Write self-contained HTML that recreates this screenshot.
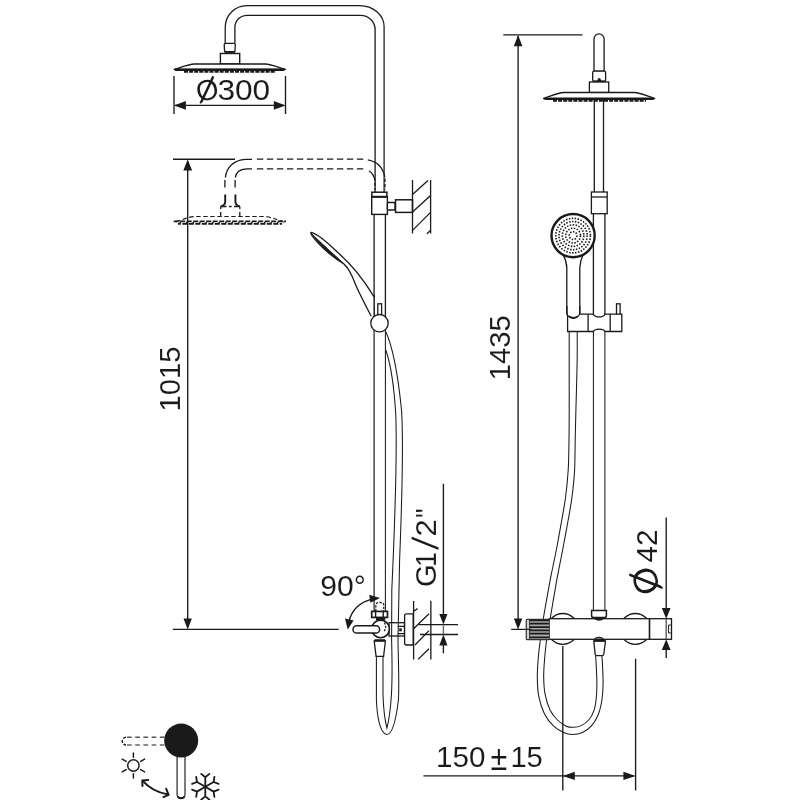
<!DOCTYPE html>
<html><head><meta charset="utf-8"><title>Shower column dimensions</title>
<style>
html,body{margin:0;padding:0;background:#fff;}
svg{display:block;will-change:transform;opacity:.999}
.l{fill:none;stroke:#1a1a1a;stroke-width:1.3}
.w{fill:#fff;stroke:#1a1a1a;stroke-width:1.3}
.t{fill:none;stroke:#1a1a1a;stroke-width:1.35}
.d{fill:none;stroke:#1a1a1a;stroke-width:1.3;stroke-dasharray:4.2 2.4}
.a{fill:#1a1a1a;stroke:none}
text{font-family:"Liberation Sans",sans-serif;fill:#1a1a1a;stroke:#fff;stroke-width:.08}
</style></head>
<body>
<svg width="800" height="800" viewBox="0 0 800 800">
<rect width="800" height="800" fill="#fff"/>

<!-- ===== LEFT VIEW ===== -->
<g id="left">
<!-- arm pipe -->
<path class="l" d="M225.2 43.3 V27.5 A21.5 22 0 0 1 246.7 5.5 H359.6 A24.5 21 0 0 1 384.1 26.5 V192" style="stroke-width:1.25"/>
<path class="l" d="M234.9 43.3 V27.3 A12.3 12 0 0 1 247.2 15.3 H360.6 A14.5 14.2 0 0 1 375.1 29.5 V192"/>
<!-- head connector -->
<path class="w" d="M224.2 44.8 Q224.2 43.3 225.7 43.3 H233.8 Q235.3 43.3 235.3 44.8 L234.9 51.6 H224.6Z"/>
<path d="M224.8 52 H234.8" stroke="#1a1a1a" stroke-width="1.8" fill="none"/>
<rect class="w" x="220.4" y="53.5" width="19.3" height="10.5" style="stroke-width:1.4"/>
<!-- shower head -->
<path class="w" d="M173.7 69.4 C181 67.6 187 64.4 194.5 64 H265 C272.5 64.4 278.5 67.6 285.8 69.4 Z"/>
<path d="M175 69.8 H284.5" stroke="#1a1a1a" stroke-width="2.6" fill="none"/>
<path d="M184 71.8 H276" stroke="#1a1a1a" stroke-width="2" stroke-dasharray="4 1.1" fill="none"/>
<!-- Ø300 dim -->
<path class="t" d="M174 76 V114.1 M285.5 76 V114.1 M175 105.4 H284"/>
<path class="a" d="M174 105.4 l11.9 -4.3 v8.6z M285.5 105.4 l-11.7 -4.3 v8.6z"/>
<text id="t300o" transform="translate(207.2 90) rotate(-14.4)" text-anchor="middle" y="10" font-size="29" stroke-width=".8">Ø</text>
<path d="M213.1 76.2 L200.3 103.4" stroke="#1a1a1a" stroke-width="1.7" fill="none"/>
<text id="t300" x="217.4" y="100.2" font-size="29.6" textLength="52.8" lengthAdjust="spacingAndGlyphs">300</text>

<!-- dashed arm -->
<path class="l" d="M225.4 177.5 C226.5 167 234 160 245.5 159.3 H252 M235.4 177.5 C236 172.5 240 169.2 246.5 168.9 H252"/>
<path class="l" d="M256.9 159.2 H363.4 M256.9 168.9 H363.4" style="stroke-dasharray:6.4 3.6"/>
<path class="l" d="M224.9 180 V187.6 M235.1 180 V187.6"/>
<path class="t" d="M367.8 159.8 C377 161.5 383 167 384.8 177"/>
<path class="t" d="M369 171 C372.5 173 374.3 176 375 181"/>
<path class="l" d="M385 178.5 V190 M375 182.5 V190" style="stroke-dasharray:3.4 2"/>
<!-- dashed connector -->
<path class="l" d="M225.2 194.4 V201.5 C225.2 204 224 205.6 220.8 206.4 M235.4 194.4 V201.5 C235.4 204 236.6 205.6 239.8 206.4" style="stroke-width:1.9"/>
<path class="l" d="M220.7 206.4 H226.5 M229 206.4 H231.6 M234 206.4 H239.8" style="stroke-width:1.5"/>
<path class="l" d="M220.7 206.4 V209 M220.7 212 V216.4 M239.8 206.4 V209 M239.8 212 V216.4"/>
<!-- dashed head -->
<path d="M176 221.6 C182 220.2 187 217.2 194.5 216.5 H265 C272.5 217.2 277.5 220.2 283.5 221.6" fill="none" stroke="#1a1a1a" stroke-width="1.2" stroke-dasharray="4.4 2.6"/>
<path d="M173.7 221.4 H286" stroke="#1a1a1a" stroke-width="1.9" fill="none" stroke-dasharray="5 1.5"/>
<path d="M178 223.9 H282" stroke="#1a1a1a" stroke-width="1.9" stroke-dasharray="5 1.5" stroke-dashoffset="2.2" fill="none"/>
<path d="M176 222.6 H284" stroke="#1a1a1a" stroke-width="1.4" stroke-dasharray="1.6 4.9" stroke-dashoffset="-3.4" fill="none"/>
<!-- 1015 dim -->
<path class="t" d="M173 159.2 H235 M172.8 629.3 H338.7 M187.7 161 V627"/>
<path class="a" d="M187.7 159.4 l-4.4 11 h8.8z M187.7 629.6 l-4.2 -11 h8.4z"/>
<text id="t1015" transform="translate(180.2 411.6) rotate(-90)" font-size="30" textLength="65" lengthAdjust="spacingAndGlyphs">1015</text>

<!-- pole below connector -->
<path class="l" d="M374.1 214 V330 M385.4 214 V330"/>
<path class="l" d="M374.1 330 V611" style="stroke-width:1.2"/><path class="l" d="M385.4 330 V611" style="stroke-width:1.05"/>
<!-- wall connector top -->
<rect class="w" x="371.9" y="192.2" width="15" height="4.6" style="stroke-width:1.5"/>
<rect class="w" x="371.7" y="196.8" width="15.7" height="17.6" style="stroke-width:1.4"/>
<path class="l" d="M371.7 196.8 H387.4" style="stroke-width:2"/>
<rect class="w" x="387.4" y="202.5" width="7.6" height="7.5" rx="1"/>
<rect class="w" x="395.5" y="199.8" width="17" height="12.6" style="stroke-width:1.5"/>
<!-- wall top -->
<path class="l" d="M412.5 180 V233.4 M430.6 180 V233.4"/>
<path class="l" d="M412.5 194.5 L427.9 180.5 M412.5 212 L430.6 195.4 M412.5 230.4 L430.6 212.4 M426.8 233.7 L430.6 230.4"/>

<!-- hand shower (side) -->
<path d="M311.3 232.4 C318 234 330 245 337.5 252.3 C350 263 362 277 374.1 296.8 V316 L371.2 316.2 C370.2 314.3 367.2 308.5 365.4 305.0 C363.6 301.5 361.9 298.0 360.4 295.0 C358.9 292.0 357.9 289.9 356.6 287.0 C355.3 284.1 354.0 280.4 352.6 277.5 C351.2 274.6 349.9 271.7 348.4 269.4 C346.9 267.1 344.5 264.6 343.7 263.7 C334 258 320 247 312.2 236 C310.5 233.5 310.5 232.3 311.3 232.4Z" fill="#fff" stroke="none"/>
<path class="l" d="M374.1 296.8 C362 277 350 263 337.5 252.3 C330 245 318 234 311.3 232.4 C310.5 232.3 310.5 233.5 312.2 236 C320 247 334 258 343.7 263.7"/>
<path class="l" d="M371.2 316.2 C370.2 314.3 367.2 308.5 365.4 305.0 C363.6 301.5 361.9 298.0 360.4 295.0 C358.9 292.0 357.9 289.9 356.6 287.0 C355.3 284.1 354.0 280.4 352.6 277.5 C351.2 274.6 349.9 271.7 348.4 269.4 C346.9 267.1 344.5 264.6 343.7 263.7"/>
<path d="M311.6 233.6 C318 244 332 257 344 263.8 C334 254.5 320 242 311.6 233.6Z" fill="#1a1a1a" stroke="#1a1a1a" stroke-width="0.8"/>
<path class="l" d="M374.1 295 V318"/>
<!-- pin + ball -->
<rect class="w" x="377.8" y="303.8" width="3.8" height="12"/>
<circle class="w" cx="379.5" cy="323.2" r="8.7"/>
<!-- hose (side) -->
<path class="l" d="M385.6 331.3 C392 345 398 375 401.5 410 C403.5 440 402 500 399.6 560" style="stroke-width:1.05"/>
<path class="l" d="M385.8 350 C390 362 394 385 395.8 415 C397 450 395 520 391.8 590" style="stroke-width:1.05"/>
</g>

<!-- ===== LEFT VIEW: valve ===== -->
<g id="valve">
<!-- block right of body -->
<rect class="w" x="389" y="622.7" width="15.5" height="13.3"/>
<path class="l" d="M397.7 626.3 H404.5 M397.7 633.6 H404.5"/>
<rect x="399.2" y="628.3" width="2.6" height="3" fill="#1a1a1a"/>
<!-- hose loop -->
<path class="l" d="M399.6 560 L398 640 C398.4 665 399.4 685 398.4 700 C396 720 392.5 734.4 386.9 734.4 C381 734.4 377.2 720 376.4 700 V655" style="stroke-width:1.05"/>
<path class="l" d="M391.8 590 L391.6 640 C392.3 665 392.2 682 391.4 695 C390.3 712 388.6 722 386.9 728 C385.3 722 383.6 712 383 695 V655" style="stroke-width:1.05"/>
<!-- tapered connector -->
<path class="w" d="M374.2 641 H385.4 L383.6 656.4 H376.1Z"/>
<path d="M374.5 640.2 H385.2" stroke="#1a1a1a" stroke-width="2" fill="none"/>
<!-- dashed nipple on top -->
<path class="l" d="M375.8 611 V605 C375.8 603 378 602.5 379.8 602.5 C381.8 602.5 383.8 603 383.8 605 V611" style="stroke-dasharray:2.2 1.4"/>
<!-- nut -->
<rect class="w" x="371.7" y="611.4" width="15.8" height="6" style="stroke-width:1.7"/>
<path class="l" d="M375.6 611.4 V617.4 M383.2 611.4 V617.4" style="stroke-width:1.4"/>
<rect x="376" y="617.4" width="9.2" height="3" fill="#1a1a1a"/>
<!-- flange -->
<path class="w" d="M413.2 613.8 H406.6 Q404.6 613.8 404.6 615.8 V643 Q404.6 645 406.6 645 H413.2Z"/>
<!-- body circle -->
<circle class="w" cx="380.6" cy="628.9" r="8.8" style="stroke-width:1.6"/>
<path class="l" d="M384.3 622.7 C386.1 624.8 386.1 628.6 384.3 631" style="stroke-dasharray:2 1.4"/>
<!-- lever -->
<path class="w" d="M375.9 625.7 H356.7 A3.7 3.7 0 0 0 356.7 633.1 H375.9 A3.7 3.7 0 0 0 375.9 625.7Z" style="stroke-width:1.5"/>
<!-- wall bottom -->
<path class="l" d="M413.6 601 V659.6 M430.85 600.8 V659.6"/>
<path class="l" d="M413.6 611.2 L417.6 608.6 M413.6 628.7 L429 613.7 M415 645 L429 630.6 M418.1 659.4 L429 648.7"/>
<path class="l" d="M418.7 624.6 H458 M420 634.5 H458"/>
<!-- G1/2 dim -->
<path class="t" d="M443.4 483.7 V614.5 M443.4 644 V653.3"/><path class="t" d="M443.4 624.6 V634.5" style="stroke:#666"/>
<path class="a" d="M443.4 624.6 l-4.1 -10.7 h8.2z M443.4 634.5 l-4.1 10.9 h8.2z"/>
<text id="tg" transform="translate(436 586.5) rotate(-90)" font-size="29.7"><tspan x="-0.46" y="0" textLength="22.76" lengthAdjust="spacingAndGlyphs">G</tspan><tspan x="19.8" y="0" textLength="14.58" lengthAdjust="spacingAndGlyphs">1</tspan><tspan x="35.6" y="3.2" font-size="38" textLength="15.6" lengthAdjust="spacingAndGlyphs" stroke-width="1.15">/</tspan><tspan x="50.05" y="0" textLength="17.2" lengthAdjust="spacingAndGlyphs">2</tspan><tspan x="68.5" y="0" textLength="9.6" lengthAdjust="spacingAndGlyphs">"</tspan></text>
<!-- 90 deg -->
<path class="l" d="M349 621 C352 610 360 602.5 371 599.4" style="stroke-width:1.5"/>
<path class="a" d="M347.7 629.6 L345 618.4 L353.6 620.4Z M380 598 L369.2 594.8 L370.4 602.8Z"/>
<text id="t90" x="320.3" y="596" font-size="29.8" textLength="45.6" lengthAdjust="spacingAndGlyphs">90°</text>
</g>

<!-- ===== RIGHT VIEW ===== -->
<g id="right">
<!-- 1435 dim -->
<path class="t" d="M503.3 34.8 H582.5 M511.2 629.3 H531 M518.1 36 V627"/>
<path class="a" d="M518.1 35 l-4.3 11.2 h8.6z M518.1 629.6 l-4.2 -11 h8.4z"/>
<text id="t1435" transform="translate(510.3 380.2) rotate(-90)" font-size="30" textLength="65" lengthAdjust="spacingAndGlyphs">1435</text>
<!-- top pipe -->
<path class="w" d="M594 71.2 V39 A5.05 5.2 0 0 1 604.1 39 V71.2Z"/>
<rect class="w" x="592.7" y="71.2" width="12.9" height="10" rx="1.2"/>
<path d="M597.2 81 C597.6 77 600.8 77 601.2 81Z" fill="#1a1a1a"/>
<path d="M593 81.5 H605.4" stroke="#1a1a1a" stroke-width="1.6" fill="none"/>
<rect class="w" x="589.4" y="82" width="19.3" height="10.5"/>
<!-- pole below head -->
<path class="l" d="M594.3 100 V192 M603.5 100 V192"/>
<!-- head -->
<path class="w" d="M543.1 98.6 C550.5 96.6 556.5 93 564 92.5 H634.2 C641.7 93 647.7 96.6 655.1 98.6 Z"/>
<path d="M544.5 98.8 H653.7" stroke="#1a1a1a" stroke-width="2.6" fill="none"/>
<path d="M553 100.8 H646" stroke="#1a1a1a" stroke-width="2" stroke-dasharray="4 1.1" fill="none"/>
<!-- lower pole -->
<path class="l" d="M593.4 213.7 V331 M604.9 213.7 V331"/>
<path class="l" d="M593.4 331 V611 M604.9 331 V611" style="stroke-width:1.05"/>
<!-- connector -->
<rect class="w" x="591.4" y="192" width="15.8" height="21.7"/>
<path class="l" d="M591.4 197 H607.2"/>
<!-- hand shower head -->
<path class="w" d="M563.2 255 C565.5 259 566.7 263 566.8 268 V313 C566.8 318 579.8 318 579.8 313 V268 C579.9 263 581 259 583 255Z"/>
<circle class="w" cx="573.1" cy="235.6" r="21.6" style="stroke-width:2.4"/>
<g fill="none" stroke="#1a1a1a" stroke-width="1.6" stroke-dasharray="1.5 1.45">
<circle cx="573.1" cy="235.6" r="3.9"/>
<circle cx="573.1" cy="235.6" r="7.4"/>
<circle cx="573.1" cy="235.6" r="10.8"/>
<circle cx="573.1" cy="235.6" r="14.1"/>
<circle cx="573.1" cy="235.6" r="17.3"/>
</g>
<!-- holder -->
<rect class="w" x="616.5" y="303.8" width="3.6" height="11"/>
<path d="M567.6 314.2 H593.4 C595 317.8 603.4 317.8 605 314.2 H621.8 V331.5 H605 C603.4 328.4 595 328.4 593.4 331.5 H567.6Z" fill="#fff" stroke="none"/>
<path class="l" d="M579.8 314.2 H593.4 C595 317.8 603.4 317.8 605 314.2 H621.8 V331.5 H605 C603.4 328.4 595 328.4 593.4 331.5 H567.6 V315"/>
<path class="l" d="M588.1 314.2 V331.5 M610.2 314.2 V331.5"/>
<path class="l" d="M566.9 306 V312.5 C566.9 319.5 579.8 319.5 579.8 312.5 V306"/>
<path d="M568.6 316.2 C571 318.6 575.6 318.6 578 316.2" fill="none" stroke="#1a1a1a" stroke-width="1.8"/>
<!-- hose -->
<path class="l" d="M569.2 331.5 C569.2 337.9 569.2 356.9 569.2 370.0 C569.2 383.1 569.2 398.3 569.2 410.0 C569.2 421.7 569.2 430.0 569.0 440.0 C568.8 450.0 568.8 460.5 568.2 470.0 C567.6 479.5 566.7 488.5 565.6 497.0 C564.5 505.5 563.1 512.5 561.6 521.0 C560.1 529.5 558.3 539.8 556.7 548.0 C555.1 556.2 553.4 564.2 552.2 570.0 C551.0 575.8 551.2 574.5 549.7 582.6 C548.2 590.7 544.9 608.9 543.3 618.5 C541.7 628.1 541.1 633.3 540.3 640.0 C539.4 646.7 538.7 652.5 538.2 658.7 C537.7 665.0 537.2 671.2 537.3 677.5 C537.4 683.8 537.5 690.2 538.7 696.2 C539.9 702.2 541.9 708.7 544.4 713.7 C546.9 718.7 550.5 723.1 553.7 726.2 C556.9 729.3 560.6 731.1 563.7 732.5 C566.8 733.9 569.4 734.4 572.5 734.4 C575.6 734.4 579.4 733.9 582.5 732.5 C585.6 731.1 588.6 729.1 591.2 726.2 C593.8 723.3 596.3 719.4 598.1 715.0 C599.9 710.6 601.1 705.2 601.9 700.0 C602.7 694.8 603.0 689.5 603.1 683.7 C603.2 677.9 602.7 669.7 602.5 665.0 C602.3 660.3 602.0 657.2 601.9 655.6" style="stroke-width:1.05"/>
<path class="l" d="M577.2 331.5 C577.2 335.9 577.3 349.1 577.2 358.0 C577.1 366.9 576.8 376.3 576.6 385.0 C576.4 393.7 576.1 400.8 575.9 410.0 C575.7 419.2 575.4 430.0 575.2 440.0 C575.0 450.0 575.1 460.5 574.6 470.0 C574.1 479.5 573.1 488.5 572.0 497.0 C570.9 505.5 569.5 512.5 568.0 521.0 C566.5 529.5 564.5 539.8 563.0 548.0 C561.5 556.2 559.8 564.2 558.7 570.0 C557.6 575.8 557.7 574.5 556.3 582.6 C554.9 590.7 551.8 608.9 550.2 618.5 C548.6 628.1 547.5 633.3 546.6 640.0 C545.7 646.7 545.1 652.5 544.6 658.7 C544.1 665.0 543.6 671.7 543.7 677.5 C543.8 683.3 544.0 688.3 545.0 693.7 C546.0 699.1 547.9 705.6 550.0 710.0 C552.1 714.4 554.8 717.3 557.5 720.0 C560.2 722.7 563.5 725.0 566.2 726.2 C568.9 727.4 571.2 727.4 573.7 727.3 C576.2 727.2 578.7 726.8 581.2 725.6 C583.7 724.4 586.6 722.4 588.7 720.0 C590.8 717.6 592.5 714.8 593.7 711.2 C595.0 707.7 595.7 703.3 596.2 698.7 C596.7 694.1 596.9 689.3 596.9 683.7 C596.9 678.1 596.4 669.7 596.2 665.0 C596.0 660.3 595.7 657.2 595.6 655.6" style="stroke-width:1.05"/>
</g>

<!-- ===== RIGHT VIEW: mixer ===== -->
<g id="mixer">
<!-- escutcheons -->
<circle class="w" cx="562.8" cy="628.9" r="15.4"/>
<circle class="w" cx="635.3" cy="628.9" r="15.4"/>
<!-- pole nut -->
<path class="w" d="M591.6 610.6 H606.4 V615.5 Q606.4 617.6 604.4 617.6 H593.6 Q591.6 617.6 591.6 615.5Z" style="stroke-width:1.5"/>
<!-- bottom connector -->
<path class="w" d="M593.8 641 H605.5 L603.8 654 Q603.6 655.6 602 655.6 H596.8 Q595.3 655.6 595.1 654Z"/>
<!-- body -->
<rect class="w" x="549.3" y="618.7" width="122.2" height="20.6" style="stroke-width:1.3"/>
<path class="l" d="M649.5 618.7 V639.3" style="stroke-width:1.6"/>
<path class="t" d="M666.2 618.7 V639.3" style="stroke:#555"/>
<path class="l" d="M670.8 625 H668.6 V633 H670.8" style="stroke-width:1"/>
<path d="M594.6 638.9 C596.5 637 601.5 637 603.4 638.9" class="l"/>
<path d="M593.6 618 C596 621.6 602 621.6 604.4 618Z" fill="#1a1a1a"/>
<path d="M593.8 640.4 H605" stroke="#1a1a1a" stroke-width="2.2" fill="none"/>
<!-- knob -->
<rect x="526.3" y="619.3" width="23" height="20.4" rx="1" fill="#d4d4d4" stroke="#333" stroke-width="1.2"/>
<rect x="529.6" y="620" width="19.6" height="19" fill="#a8a8a8"/>
<path class="l" d="M529.5 620 V639" style="stroke-width:1;stroke:#444"/>
<path class="l" d="M529.6 620.5 H549 M529.6 623.7 H549 M529.6 627.1 H549 M529.6 630.4 H549 M529.6 633.7 H549 M529.6 637.3 H549" style="stroke-width:1.7"/>
<path class="t" d="M526 629.3 H531.5" style="stroke-width:1.2"/>
<!-- O42 dim -->
<path class="t" d="M666.2 517.6 V609 M666.2 649 V658"/>
<path class="a" d="M666.2 618.7 l-4.4 -10.8 h8.8z M666.2 639.3 l-4.4 10.8 h8.8z"/>
<text id="t42" transform="translate(657.3 562.6) rotate(-90)" font-size="29.4" textLength="33" lengthAdjust="spacingAndGlyphs">42</text>
<text id="to" transform="translate(645.6 581) rotate(-109.7) scale(1.04 1)" text-anchor="middle" y="11.85" font-size="34.4" stroke-width="1.1">Ø</text>
<path d="M629.2 574.7 L662.6 588" stroke="#1a1a1a" stroke-width="1.9" fill="none"/>
<!-- 150 dim -->
<path class="t" d="M562.8 646 V790.4 M635.6 658.7 V790.4 M423.4 775.9 H634"/>
<path class="a" d="M562.8 775.9 l12 -4.1 v8.2z M635.6 775.9 l-12.2 -4.1 v8.2z"/>
<text id="t150" y="766.9" font-size="30"><tspan x="436" textLength="49.4" lengthAdjust="spacingAndGlyphs">150</tspan><tspan x="490.6" y="769.8" font-size="34.7" textLength="16.8" lengthAdjust="spacingAndGlyphs" stroke-width=".15">±</tspan><tspan x="510.4" y="766.9" font-size="30" textLength="32.4" lengthAdjust="spacingAndGlyphs">15</tspan></text>
</g>

<!-- ===== ICON ===== -->
<g id="icon">
<path d="M164.5 737.2 H127" fill="none" stroke="#555" stroke-width="1.6" stroke-dasharray="4.7 3.5"/>
<path d="M164.5 745 H127" fill="none" stroke="#1a1a1a" stroke-width="1.2" stroke-dasharray="4.7 3.5"/>
<path d="M126 737.3 C121 737.6 121 744.6 126 745" fill="none" stroke="#1a1a1a" stroke-width="1.5" stroke-dasharray="3 1.6"/>
<path d="M177.1 756 V794.6 C177.1 799 185 799 185 794.6 V756Z" fill="#fff" stroke="#444" stroke-width="1.4"/>
<path d="M177.6 796.4 C179 798.8 183 798.8 184.5 796.4" stroke="#1a1a1a" stroke-width="1.9" fill="none"/>
<circle cx="181.2" cy="740.6" r="17" fill="#1a1a1a"/>
<!-- sun -->
<g stroke="#1a1a1a" stroke-width="1.45" fill="none" stroke-linecap="round">
<circle cx="133.4" cy="765.5" r="5.7"/>
<path d="M133.4 757.2 V753 M133.4 773.8 V778 M140.6 761.4 L144.6 759.1 M126.2 761.4 L122.2 759.1 M140.6 769.6 L144.6 771.9 M126.2 769.6 L122.2 771.9"/>
</g>
<!-- double arrow -->
<g stroke="#1a1a1a" stroke-width="2" fill="none" stroke-linecap="round" stroke-linejoin="round">
<path d="M142.6 780.6 C148.5 787.6 157 792.4 168.2 794.6"/>
<path d="M142.4 786 L142.4 780.4 L148.2 779.9 M166.2 788.8 L168.6 794.8 L163.5 797.1"/>
</g>
<!-- snowflake -->
<g stroke="#1a1a1a" stroke-width="1.8" fill="none" stroke-linecap="round" stroke-linejoin="round" transform="translate(205.3 786.8)">
<path d="M0 0 V-9.6 M-4.1 -12.9 L0 -9.6 L4.1 -12.9"/>
<path transform="rotate(60)" d="M0 0 V-9.6 M-4.1 -12.9 L0 -9.6 L4.1 -12.9"/>
<path transform="rotate(120)" d="M0 0 V-9.6 M-4.1 -12.9 L0 -9.6 L4.1 -12.9"/>
<path transform="rotate(180)" d="M0 0 V-9.6 M-4.1 -12.9 L0 -9.6 L4.1 -12.9"/>
<path transform="rotate(240)" d="M0 0 V-9.6 M-4.1 -12.9 L0 -9.6 L4.1 -12.9"/>
<path transform="rotate(300)" d="M0 0 V-9.6 M-4.1 -12.9 L0 -9.6 L4.1 -12.9"/>
</g>
</g>
</svg>
</body></html>
